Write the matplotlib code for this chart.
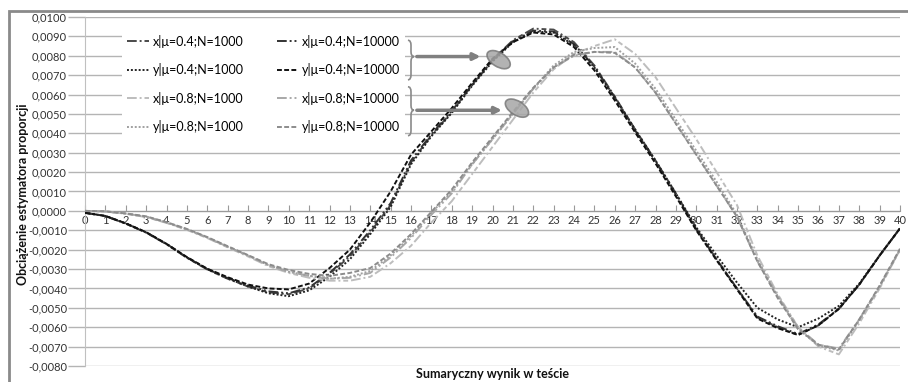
import numpy as np
import matplotlib
matplotlib.use('Agg')
import matplotlib.pyplot as plt
from matplotlib.path import Path
from matplotlib.patches import PathPatch, Ellipse, Rectangle
from matplotlib.ticker import FuncFormatter, MultipleLocator
from matplotlib.transforms import ScaledTranslation

plt.rcParams['font.family'] = ['Lato', 'DejaVu Sans']

# wynik sumaryczny 0..40
wynik = list(range(41))

# obciazenie estymatora (wartosci, w jednostkach 0,001)
x04_1000 = [-0.10, -0.27, -0.66, -1.12, -1.72, -2.42, -3.02, -3.50, -3.90, -4.20, -4.30, -4.00, -3.25, -2.35, -1.10, 0.30,
            2.50, 3.90, 5.10, 6.50, 7.80, 8.80, 9.40, 9.35, 8.70, 7.50, 5.90, 4.20, 2.60, 0.90, -0.90, -2.50, -4.00,
            -5.50, -6.00, -6.40, -5.90, -5.05, -3.80, -2.30, -0.90]
x04_10000 = [-0.10, -0.26, -0.65, -1.10, -1.70, -2.40, -3.00, -3.46, -3.85, -4.15, -4.25, -3.95, -3.20, -2.25, -1.00, 0.40,
             2.60, 3.95, 5.15, 6.50, 7.75, 8.75, 9.30, 9.25, 8.60, 7.45, 5.85, 4.15, 2.55, 0.85, -0.95, -2.50, -4.00,
             -5.45, -5.95, -6.35, -5.85, -5.05, -3.80, -2.30, -0.90]
y04_1000 = [-0.10, -0.26, -0.65, -1.11, -1.71, -2.40, -3.00, -3.48, -3.90, -4.25, -4.40, -4.10, -3.40, -2.50, -1.20, 0.20,
            2.40, 3.85, 5.05, 6.45, 7.70, 8.70, 9.25, 9.20, 8.55, 7.40, 5.85, 4.20, 2.60, 0.90, -0.85, -2.30, -3.70,
            -5.00, -5.60, -6.00, -5.55, -4.90, -3.75, -2.30, -0.90]
y04_10000 = [-0.10, -0.26, -0.64, -1.10, -1.70, -2.38, -2.98, -3.42, -3.80, -4.00, -4.05, -3.75, -2.95, -2.00, -0.60, 1.00,
             2.90, 4.10, 5.30, 6.60, 7.85, 8.70, 9.20, 9.10, 8.45, 7.25, 5.70, 4.05, 2.45, 0.75, -1.00, -2.55, -4.05,
             -5.55, -6.05, -6.40, -5.90, -5.05, -3.80, -2.30, -0.90]

x08_1000 = [0.00, -0.03, -0.15, -0.32, -0.62, -0.98, -1.40, -1.88, -2.35, -2.85, -3.20, -3.45, -3.60, -3.60, -3.40, -2.70,
            -1.80, -0.60, 0.50, 1.90, 3.30, 4.70, 6.10, 7.30, 8.10, 8.50, 8.85, 8.10, 6.90, 5.30, 3.70, 2.00, 0.30,
            -2.30, -4.30, -6.00, -7.00, -7.40, -5.80, -4.00, -2.00]
x08_10000 = [0.00, -0.03, -0.14, -0.30, -0.60, -0.95, -1.37, -1.85, -2.30, -2.80, -3.14, -3.35, -3.50, -3.45, -3.20, -2.40,
             -1.40, -0.20, 0.90, 2.40, 3.70, 5.00, 6.30, 7.40, 8.00, 8.20, 8.20, 7.40, 6.10, 4.50, 2.90, 1.30, -0.30,
             -2.60, -4.40, -6.00, -6.90, -7.10, -5.60, -3.90, -2.00]
y08_1000 = [0.00, -0.03, -0.14, -0.30, -0.60, -0.95, -1.37, -1.85, -2.30, -2.80, -3.14, -3.35, -3.50, -3.40, -3.10, -2.30,
            -1.30, -0.10, 1.00, 2.40, 3.70, 5.00, 6.30, 7.50, 8.20, 8.40, 8.45, 7.60, 6.30, 4.70, 3.10, 1.50, -0.20,
            -2.50, -4.40, -6.10, -6.95, -7.20, -5.65, -3.90, -2.00]
y08_10000 = [0.00, -0.02, -0.13, -0.28, -0.58, -0.93, -1.35, -1.82, -2.28, -2.75, -3.05, -3.25, -3.35, -3.20, -2.95, -2.20,
             -1.20, -0.05, 1.10, 2.50, 3.80, 5.10, 6.35, 7.40, 8.05, 8.20, 8.15, 7.40, 6.10, 4.50, 2.90, 1.30, -0.30,
             -2.60, -4.50, -6.10, -6.90, -7.15, -5.60, -3.85, -1.95]

etykiety = ['x|\u03bc=0.4;N=1000', 'x|\u03bc=0.4;N=10000', 'y|\u03bc=0.4;N=1000', 'y|\u03bc=0.4;N=10000',
            'x|\u03bc=0.8;N=1000', 'x|\u03bc=0.8;N=10000', 'y|\u03bc=0.8;N=1000', 'y|\u03bc=0.8;N=10000']
serie = [x04_1000, x04_10000, y04_1000, y04_10000, x08_1000, x08_10000, y08_1000, y08_10000]
kolory = ['#4a4a4a', '#333333', '#222222', '#111111', '#bdbdbd', '#a8a8a8', '#a0a0a0', '#8c8c8c']
style = [(0, (5, 1.5, 1, 1.5, 2.5, 1.5)), (0, (5, 1.5, 1, 1.5, 1, 1.5)), (0, (1, 1)), (0, (2.5, 1.2)),
         (0, (5, 1.5, 1, 1.5, 2.5, 1.5)), (0, (5, 1.5, 1, 1.5, 1, 1.5)), (0, (1, 1)), (0, (2.5, 1.2))]

fig = plt.figure(figsize=(9.08, 3.82), dpi=100)
ax = fig.add_axes([85 / 908, 1 - 366 / 382, 815 / 908, 349 / 382])

linie = []
for s, lab, c, ls in zip(serie, etykiety, kolory, style):
    l, = ax.plot(wynik, np.array(s) / 1000, color=c, linestyle=ls, lw=1.4, label=lab, zorder=3)
    linie.append(l)

ax.set_xlim(0, 40)
ax.set_ylim(-0.008, 0.010)
ax.yaxis.set_major_locator(MultipleLocator(0.001))
ax.yaxis.set_major_formatter(FuncFormatter(lambda v, p: ('%.4f' % v).replace('.', ',')))
ax.set_xticks(wynik)
ax.grid(axis='y', color='#b4b4b4', lw=1)
ax.set_axisbelow(True)
ax.spines['top'].set_visible(False)
ax.spines['right'].set_visible(False)
ax.spines['bottom'].set_position(('data', 0))
ax.spines['bottom'].set_color('#9a9a9a')
ax.spines['left'].set_color('#c0c0c0')
ax.tick_params(axis='y', length=12, width=1, color='#b4b4b4', pad=1, labelsize=8, labelcolor='#333333')
ax.tick_params(axis='x', direction='in', length=4, color='#9a9a9a', pad=3, labelsize=8, labelcolor='#333333')

# legenda: kolumny N=1000 i N=10000
kol = [0, 2, 4, 6, 1, 3, 5, 7]
leg = ax.legend([linie[i] for i in kol], [etykiety[i] for i in kol], ncol=2, loc='center left',
                bbox_to_anchor=(0.046, 0.808), borderaxespad=0, frameon=True, fancybox=False,
                edgecolor='none', facecolor='white', framealpha=1, fontsize=9, handlelength=1.7,
                handletextpad=0.3, columnspacing=2.7, labelspacing=1.25)
leg.set_zorder(4)


# klamry, strzalki i elipsy
def klamra(x0, yg, ys, yd, w=0.3, dy=0.00025):
    xm = x0 + w / 2
    pts = [(x0, yg), (xm, yg), (xm, yg - dy), (xm, ys + dy), (xm, ys), (x0 + w, ys),
           (xm, ys), (xm, ys - dy), (xm, yd + dy), (xm, yd), (x0, yd)]
    kody = [Path.MOVETO, Path.CURVE3, Path.CURVE3, Path.LINETO, Path.CURVE3, Path.CURVE3,
            Path.CURVE3, Path.CURVE3, Path.LINETO, Path.CURVE3, Path.CURVE3]
    ax.add_patch(PathPatch(Path(pts, kody), fill=False, edgecolor='#8a8a8a', lw=1.2, zorder=5))


klamra(15.85, 0.0088, 0.00796, 0.00676)
klamra(15.85, 0.0064, 0.00519, 0.00388)
for x0, x1, y in [(16.15, 19.55, 0.00796), (16.15, 20.6, 0.00519)]:
    ax.annotate('', xy=(x1, y), xytext=(x0, y),
                arrowprops=dict(arrowstyle='-|>', color='#808080', lw=2.5, mutation_scale=10), zorder=6)
for cx, cy in [(20.3, 0.0078), (21.2, 0.0053)]:
    tr = fig.dpi_scale_trans + ScaledTranslation(cx, cy, ax.transData)
    ax.add_patch(Ellipse((0, 0), 0.26, 0.14, angle=-32, transform=tr, facecolor='#a6a6a6',
                         edgecolor='#7a7a7a', lw=1.2, alpha=0.85, zorder=6))

fig.text(23 / 908, 1 - 194 / 382, 'Obciążenie estymatora proporcji', rotation=90, ha='center', va='center',
         fontsize=9, fontweight='bold', color='#111111')
fig.text(492 / 908, 1 - 374 / 382, 'Sumaryczny wynik w teście', ha='center', va='center',
         fontsize=9, fontweight='bold', color='#111111')

fig.patches.append(Rectangle((9 / 908, -0.1), 1.2, 1.1 - 11 / 382, transform=fig.transFigure,
                             fill=False, edgecolor='#8a8a8a', lw=2))

fig.savefig('out.png', dpi=100)
